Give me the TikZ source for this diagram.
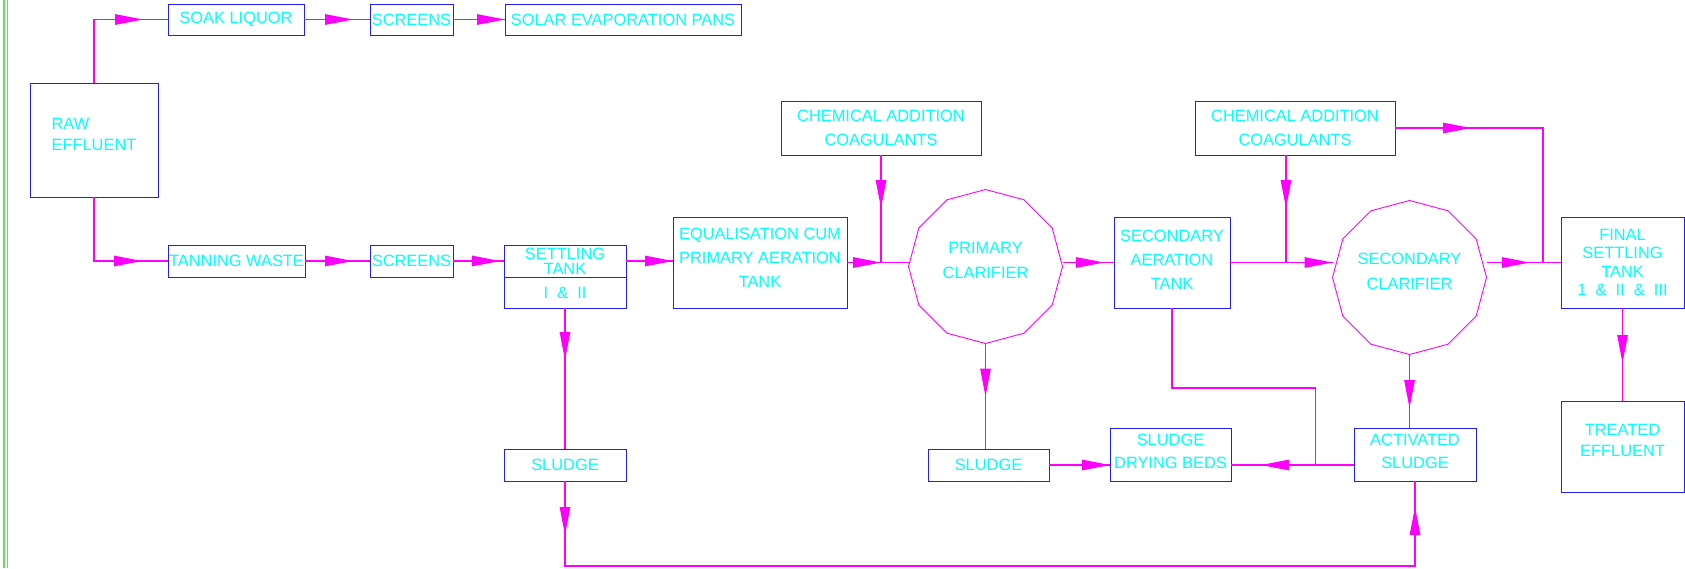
\documentclass[tikz,border=0pt]{standalone}
\usepackage{fontspec}
\setmainfont{Liberation Sans}
\usepackage{xcolor}
\usetikzlibrary{shapes.geometric,arrows.meta,decorations.markings,positioning}

\definecolor{cadblue}{RGB}{30,30,255}
\definecolor{cadcyan}{RGB}{0,255,255}
\definecolor{cadpink}{RGB}{255,0,255}
\definecolor{cadgreen}{RGB}{90,230,90}

\begin{document}
\begin{tikzpicture}[x=1pt,y=-1pt,
    unit/.style 2 args={draw=cadblue, line width=1pt, text=cadcyan, inner sep=0pt, outer sep=0pt,
        minimum width=#1, minimum height=#2, align=center, font=\fontsize{16.4}{24}\selectfont},
    clarifier/.style={draw=cadpink, line width=0.9pt, text=cadcyan, regular polygon, regular polygon sides=12,
        shape border rotate=15, minimum size=154pt, inner sep=0pt, outer sep=0pt, text depth=12pt,
        align=center, font=\fontsize{16.4}{25}\selectfont},
    flow/.style={cadpink, line width=1.1pt},
    arrowat/.style={postaction={decorate, decoration={markings,
        mark=at position #1 with {\arrow{Triangle[length=28pt,width=10.5pt]}}}}}]
    \useasboundingbox (0,0) rectangle (1685,568);
    % sheet border
    \draw[cadgreen, line width=1.1pt] (4,0) -- (4,568);
    \draw[cadgreen, line width=1.1pt] (7.5,0) -- (7.5,568);
    % raw effluent and soak liquor line
    \node[unit={128pt}{114pt}, align=left, text depth=11pt, font=\fontsize{16.4}{21}\selectfont] (raw) at (94,140) {RAW\\EFFLUENT};
    \node[unit={136pt}{31pt}] (soak) at (236,19.5) {SOAK LIQUOR};
    \node[unit={83pt}{31pt}] (screenA) at (411.5,19.5) {SCREENS};
    \node[unit={236pt}{31pt}] (solar) at (623,19.5) {SOLAR EVAPORATION PANS};
    % tanning waste line
    \node[unit={137pt}{32pt}] (tanning) at (236.5,261) {TANNING WASTE};
    \node[unit={83pt}{32pt}] (screenB) at (411.5,261) {SCREENS};
    \node[unit={122pt}{32pt}, font=\fontsize{16.4}{15}\selectfont] (settle) at (565,261) {SETTLING\\TANK};
    \node[unit={122pt}{31pt}, below=0pt of settle] (settleno) {I~~\&~~II};
    \node[unit={174pt}{91pt}, text depth=9pt] (equal) at (760,262.5) {EQUALISATION CUM\\PRIMARY AERATION\\TANK};
    \node[unit={200pt}{54pt}] (chemA) at (881,128) {CHEMICAL ADDITION\\COAGULANTS};
    \node[clarifier] (clarA) at (985.5,266.5) {PRIMARY\\CLARIFIER};
    \node[unit={116pt}{91pt}, text depth=6pt] (aerate) at (1172,262.5) {SECONDARY\\AERATION\\TANK};
    \node[unit={200pt}{54pt}] (chemB) at (1295,128) {CHEMICAL ADDITION\\COAGULANTS};
    \node[clarifier] (clarB) at (1409.5,277.5) {SECONDARY\\CLARIFIER};
    \node[unit={123pt}{91pt}, font=\fontsize{16.4}{18.5}\selectfont] (final) at (1622.5,262.5) {FINAL\\SETTLING\\TANK\\1~~\&~~II~~\&~~III};
    \node[unit={123pt}{91pt}, text depth=12pt, font=\fontsize{16.4}{21}\selectfont] (treated) at (1622.5,446.5) {TREATED\\EFFLUENT};
    % sludge line
    \node[unit={122pt}{32pt}] (sludgeA) at (565,465) {SLUDGE};
    \node[unit={121pt}{32pt}] (sludgeB) at (988.5,465) {SLUDGE};
    \node[unit={121pt}{53pt}, text depth=6pt, font=\fontsize{16.4}{23}\selectfont] (drybeds) at (1170.5,454.5) {SLUDGE\\DRYING BEDS};
    \node[unit={122pt}{53pt}, text depth=6pt, font=\fontsize{16.4}{23}\selectfont] (activated) at (1415,454.5) {ACTIVATED\\SLUDGE};
    % upper branch
    \draw[flow, arrowat=-25pt] (raw.north) |- (soak.west);
    \draw[flow, arrowat=-17pt] (soak.east) -- (screenA.west);
    \draw[flow, arrowat=1] (screenA.east) -- (solar.west);
    % lower branch
    \draw[flow, arrowat=-26pt] (raw.south) |- (tanning.west);
    \draw[flow, arrowat=-17pt] (tanning.east) -- (screenB.west);
    \draw[flow, arrowat=-4pt] (screenB.east) -- (settle.west);
    \draw[flow, arrowat=1] (settle.east) -- (settle.east -| equal.west);
    \draw[flow, arrowat=34pt] (equal.east) -- (equal.east -| clarA.west);
    \draw[flow, arrowat=53pt] (chemA.south) -- (chemA.south |- equal.east);
    \draw[flow, arrowat=-10pt] (clarA.east |- aerate.west) -- (aerate.west);
    \draw[flow, arrowat=1] (aerate.east) -- (aerate.east -| clarB.west);
    \draw[flow, arrowat=53pt] ([xshift=-9pt]chemB.south) -- ([xshift=-9pt]chemB.south |- aerate.east);
    \draw[flow, arrowat=-31pt] (clarB.east |- final.west) -- (final.west);
    \draw[flow, arrowat=76pt] (chemB.east) -| ([xshift=-18pt]final.west);
    \draw[flow, arrowat=55pt] (final.south) -- (treated.north);
    % sludge connections
    \draw[flow, arrowat=52pt] (settleno.south) -- (sludgeA.north);
    \draw[flow, arrowat=53pt] (clarA.south) -- (clarA.south |- sludgeB.north);
    \draw[flow, arrowat=1] (sludgeB.east) -- (sludgeB.east -| drybeds.west);
    \draw[flow, arrowat=-30pt] (activated.west |- sludgeB.east) -- (drybeds.east |- sludgeB.east);
    \coordinate (bend) at (1315.5,388);
    \draw[flow] (aerate.south) |- (bend) -- (bend |- sludgeB.east);
    \draw[flow, arrowat=53.5pt] (clarB.south) -- (clarB.south |- activated.north);
    \coordinate (floor) at (0,566);
    \draw[flow, arrowat=54pt, arrowat=-26pt] (sludgeA.south) |- (activated.south |- floor) -- (activated.south);
\end{tikzpicture}
\end{document}
